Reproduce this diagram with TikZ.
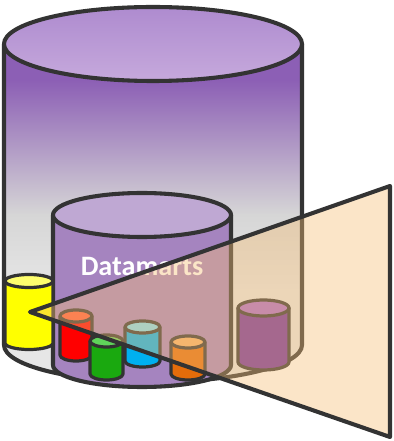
\documentclass[tikz,border=0pt]{standalone}
\usepackage{fontspec}
\setmainfont{Carlito}

\definecolor{edge}{HTML}{333333}
\definecolor{whtop}{HTML}{8C5FB5}
\definecolor{whgray}{HTML}{D6D6D6}
\definecolor{whlow}{HTML}{E6E6E6}
\definecolor{whlidA}{HTML}{AE8BCF}
\definecolor{whlidB}{HTML}{C6A9DC}
\definecolor{dmbody}{HTML}{A584BF}
\definecolor{dmlid}{HTML}{BFA8D3}
\definecolor{beam}{RGB}{245,190,117}
\definecolor{ybody}{HTML}{FFFF00}
\definecolor{ylid}{HTML}{FFFF6E}
\definecolor{rbody}{HTML}{FF0000}
\definecolor{rlid}{HTML}{FF5A3C}
\definecolor{gbody}{HTML}{1AA90F}
\definecolor{glid}{HTML}{5FD35A}
\definecolor{cbody}{HTML}{00B0F0}
\definecolor{clid}{HTML}{7FDDF2}
\definecolor{obody}{HTML}{E46C0A}
\definecolor{olid}{HTML}{F6B26A}
\definecolor{mbody}{HTML}{7030A0}
\definecolor{mlid}{HTML}{AA6BCD}

\begin{document}
\begin{tikzpicture}[x=0.025cm, y=0.025cm, line join=round,
    bigline/.style={draw=edge, line width=2.9pt},
    smallcyl/.style={draw=edge, line width=2.3pt}]
    \useasboundingbox (0,0) rectangle (394,441);

    \fill[whlow] (4,397) -- (4,96) arc[start angle=180, end angle=360, x radius=149, y radius=37] -- (302,397) -- cycle;
    \begin{scope}
        \clip (4,397) rectangle (302,150);
        \shade[top color=whtop, bottom color=whgray] (4,361) rectangle (302,226);
        \fill[whtop] (4,397) rectangle (302,361);
        \shade[top color=whgray, bottom color=whlow] (4,226.5) rectangle (302,150);
    \end{scope}
    \draw[bigline] (4,397) -- (4,96) arc[start angle=180, end angle=360, x radius=149, y radius=37] -- (302,397);
    \shade[top color=whlidA, bottom color=whlidB] (153,397) ellipse[x radius=149, y radius=37];
    \draw[bigline] (153,397) ellipse[x radius=149, y radius=37];

    \filldraw[bigline, fill=dmbody] (53,226) -- (53,76) arc[start angle=180, end angle=360, x radius=89, y radius=22] -- (231,226) -- cycle;
    \filldraw[bigline, fill=dmlid] (142,226) ellipse[x radius=89, y radius=22];
    \node[text=white, font=\bfseries\fontsize{20}{24}\selectfont] (dmlabel) at (142,175) {Datamarts};

    \foreach \cx/\r/\t/\b/\e/\body/\lid in {29/24/160/98/6.5/ybody/ylid, 76/16/125/86/6/rbody/rlid,
        106.5/16.5/100/67/6/gbody/glid, 142.5/17.5/114/80/6/cbody/clid,
        188/17/99/67/6/obody/olid, 263.5/25.5/133/79/8/mbody/mlid}
    {
        \filldraw[smallcyl, fill=\body] ({\cx-\r},\t) -- ({\cx-\r},\b) arc[start angle=180, end angle=360, x radius=\r, y radius=\e] -- ({\cx+\r},\t) -- cycle;
        \filldraw[smallcyl, fill=\lid] (\cx,\t) ellipse[x radius=\r, y radius=\e];
    }

    \coordinate (apex) at (30,129);
    \coordinate (beamtop) at (390,255);
    \coordinate (beambot) at (390,4);
    \filldraw[bigline, fill=beam, fill opacity=0.4] (apex) -- (beamtop) -- (beambot) -- cycle;
\end{tikzpicture}
\end{document}
